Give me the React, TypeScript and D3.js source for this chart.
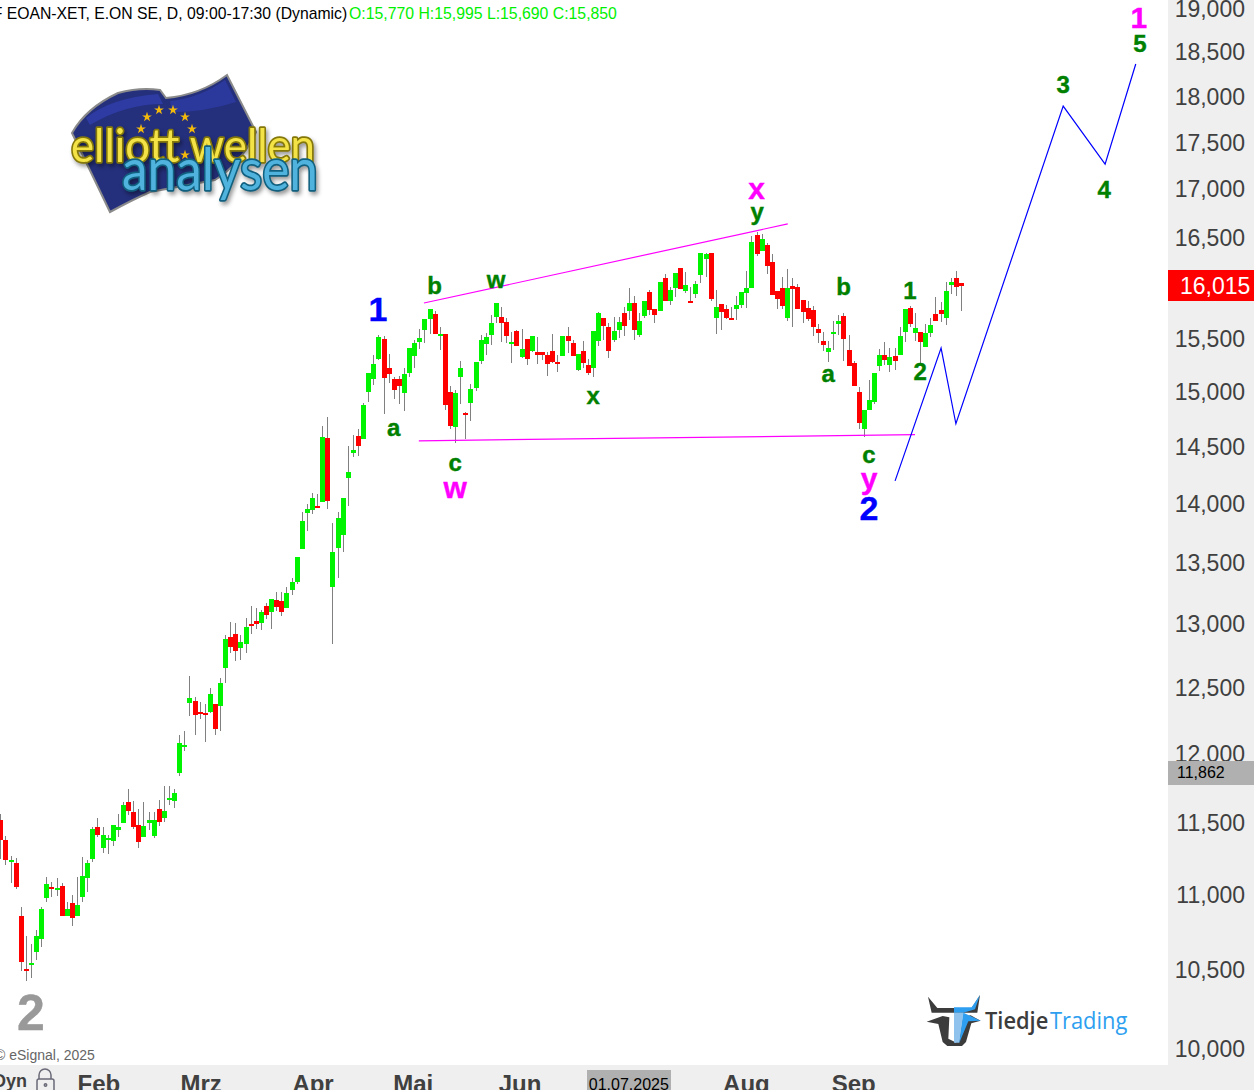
import React from 'react';
import * as d3 from 'd3';

const WIDTH = 1254;
const HEIGHT = 1090;
const AXIS_X = 1168;
const AXIS_Y = 1065;

const opens = [
  11520,11380,11225,11215,10855,10505,10535,10615,10705,10975,
  11050,11030,11060,10855,10945,10855,10985,11110,11245,11465,
  11320,11380,11370,11450,11500,11645,11575,11485,11400,11500,
  11405,11595,11535,11660,11655,11860,12050,12380,12395,12315,
  12305,12315,12375,12360,12650,12895,12920,12810,12840,13000,
  13025,13010,13145,13095,13195,13185,13130,13275,13340,13615,
  13925,13950,13980,14015,14580,13300,13625,13735,14225,14445,
  14600,14575,15000,15125,15310,15500,15225,15125,15125,14990,
  15180,15340,15470,15585,15695,15740,15530,15550,15000,14680,
  15140,14810,14900,15040,15290,15450,15540,15715,15715,15665,
  15450,15580,15330,15500,15385,15375,15375,15345,15385,15280,
  15340,15530,15460,15205,15385,15255,15225,15480,15705,15615,
  15490,15585,15750,15770,15845,15540,15725,15955,15790,15770,
  16095,15865,15995,16195,15965,15865,15935,16125,16285,16345,
  15705,15840,15790,15705,15790,15830,15945,15995,16525,16365,
  16425,16255,15965,15995,15705,16015,16005,15875,15800,15780,
  15595,15480,15375,15550,15645,15725,15395,15270,15000,14665,
  14835,14905,15245,15345,15255,15340,15345,15570,15800,15560,
  15570,15425,15560,15740,15780,15705,16025,16095,16045,
];
const highs = [
  11560,11405,11265,11250,10915,10725,10670,10765,10915,11120,
  11085,11115,11080,10950,10995,11120,11260,11240,11465,11535,
  11470,11415,11485,11560,11645,11740,11655,11595,11645,11575,
  11575,11660,11765,11765,11740,12140,12165,12590,12430,12390,
  12375,12495,12375,12575,12910,13015,13010,12910,13050,13145,
  13130,13115,13170,13200,13260,13260,13300,13375,13550,13930,
  14000,14095,14085,14690,14770,13835,13930,14050,14510,14610,
  14665,14900,15180,15345,15540,15530,15355,15140,15150,15225,
  15415,15490,15595,15695,15790,15770,15615,15550,15055,15020,
  15290,14815,15075,15280,15540,15560,15730,15845,15810,15705,
  15570,15585,15595,15500,15530,15520,15375,15375,15550,15345,
  15530,15615,15490,15355,15480,15310,15580,15760,15705,15655,
  15715,15715,15810,15995,15915,15750,15865,15975,15790,16055,
  16135,16005,16145,16195,16155,16005,16065,16345,16345,16345,
  15975,15840,15830,15810,15915,15955,16165,16515,16555,16535,
  16445,16335,15965,16105,16185,16095,16035,15875,15865,15820,
  15645,15570,15480,15675,15730,15750,15540,15290,15050,14835,
  15115,15180,15405,15470,15415,15415,15615,15790,15820,15750,
  15570,15645,15705,15905,15855,16055,16095,16165,16045,
];
const lows = [
  11245,11205,11080,11040,10495,10430,10450,10565,10650,10950,
  10985,10990,10855,10855,10790,10855,10950,11020,11225,11400,
  11285,11280,11335,11400,11500,11555,11455,11320,11400,11450,
  11390,11475,11505,11625,11605,11835,12020,12285,12135,12260,
  12085,12305,12140,12170,12535,12770,12705,12715,12770,12920,
  12960,12955,13040,12960,13105,13065,13130,13235,13320,13615,
  13770,13915,13965,14015,13955,12840,13375,13590,13980,14410,
  14420,14575,14905,15065,15300,14800,15085,14935,14890,14825,
  15140,15225,15405,15460,15550,15550,15395,14835,14665,14535,
  14890,14575,14735,15010,15265,15345,15440,15655,15470,15460,
  15270,15435,15320,15255,15375,15265,15300,15150,15270,15190,
  15340,15365,15340,15200,15225,15160,15140,15435,15490,15320,
  15470,15510,15530,15685,15490,15520,15705,15730,15655,15770,
  15865,15830,15905,15985,15945,15845,15895,16045,16105,15865,
  15550,15585,15695,15685,15685,15800,15800,15995,16315,16365,
  16135,15925,15790,15790,15675,15615,15790,15655,15675,15530,
  15460,15385,15280,15395,15540,15290,15245,15055,14665,14590,
  14835,14890,15200,15255,15190,15205,15345,15470,15615,15480,
  15265,15425,15520,15675,15665,15635,15935,15915,15770,
];
const closes = [
  11380,11240,11240,11050,10550,10495,10545,10725,10905,11075,
  11040,11045,10855,10905,10845,10930,11130,11215,11455,11415,
  11415,11390,11485,11470,11625,11585,11470,11365,11475,11520,
  11520,11505,11585,11675,11710,12080,12065,12420,12290,12300,
  12290,12450,12185,12535,12880,12815,12785,12855,12975,12985,
  13000,13095,13075,13200,13135,13095,13250,13340,13550,13855,
  13955,14050,13965,14590,14025,13590,13880,14050,14280,14475,
  14510,14880,15180,15265,15520,15130,15170,15020,15055,15170,
  15415,15460,15510,15695,15790,15550,15550,14880,14690,14990,
  15225,14790,15030,15280,15490,15520,15655,15845,15655,15530,
  15470,15435,15405,15310,15530,15345,15345,15265,15280,15265,
  15530,15480,15340,15355,15270,15180,15580,15750,15625,15385,
  15580,15665,15625,15845,15585,15675,15865,15780,15730,16055,
  15865,15975,16145,15985,16025,15845,16035,16345,16335,15885,
  15810,15760,15705,15685,15830,15955,15995,16455,16335,16485,
  16215,15925,15885,15820,15995,15985,15790,15760,15695,15615,
  15560,15440,15415,15570,15675,15500,15245,15055,14720,14835,
  14925,15180,15345,15300,15330,15290,15530,15790,15645,15605,
  15470,15560,15635,15675,15740,15965,16055,16005,16015,
];

const priceTicks = d3.range(10000, 19001, 500);
const months = ['Feb', 'Mrz', 'Apr', 'Mai', 'Jun', 'Aug', 'Sep'];
const monthBars = [19.3, 39.3, 61.2, 80.8, 101.7, 146, 167];
const cursorBar = 123;
const cursorDate = '01.07.2025';
const cursorPrice = 11862;
const lastPrice = 16015;

// projected count, [bar, price]
const projection: [number, number][] = [
  [175.1, 14200], [184.1, 15413], [187, 14709], [208, 17895], [216.2, 17266], [222.2, 18366],
];
const upperLine: [number, number][] = [[82.9, 15847], [154.1, 16640]];
const lowerLine: [number, number][] = [[81.9, 14555], [179, 14610]];

const GREEN = '#008000';
const BLUE = '#0000ff';
const PINK = '#ff00ff';
// text, bar, price, colour, font size
const waves: [string, number, number, string, number][] = [
  ['2', 6, 10215, '#999999', 50],
  ['1', 73.9, 15771, BLUE, 34],
  ['a', 77, 14663, GREEN, 24],
  ['b', 85, 16006, GREEN, 24],
  ['w', 97, 16066, GREEN, 24],
  ['c', 89, 14350, GREEN, 24],
  ['w', 89, 14130, PINK, 30],
  ['x', 116, 14954, GREEN, 24],
  ['y', 148.1, 16750, GREEN, 24],
  ['x', 148, 16990, PINK, 30],
  ['b', 165, 15996, GREEN, 24],
  ['a', 162, 15160, GREEN, 24],
  ['c', 170, 14420, GREEN, 24],
  ['y', 170, 14210, PINK, 30],
  ['2', 170, 13950, BLUE, 34],
  ['1', 178, 15956, GREEN, 24],
  ['2', 180, 15180, GREEN, 24],
  ['3', 208, 18120, GREEN, 24],
  ['4', 216, 16980, GREEN, 24],
  ['5', 223, 18580, GREEN, 24],
  ['1', 222.8, 18885, PINK, 30],
];

const stars: [number, number][] = [
  [147, 117], [159, 110], [173, 110], [185, 117], [192, 129], [185, 155], [141, 129],
];

const x = d3.scaleLinear().domain([0, 188]).range([0.33, 961]);
const y = d3.scaleLog().domain([10000, 19000]).range([1049, 9]);
const fmt = d3.format(',');
const priceLine = d3.line<[number, number]>().x(d => x(d[0])).y(d => y(d[1]));
const starPath = d3.symbol().type(d3.symbolStar).size(30)();

const SANS = '"Liberation Sans", Arial, sans-serif';

function Candles() {
  return (
    <g>
      {opens.map((o, i) => {
        const cx = Math.round(x(i));
        return (
          <rect key={i} x={cx} y={Math.round(y(highs[i]))} width={1}
            height={Math.round(y(lows[i])) - Math.round(y(highs[i]))} fill="#808080" />
        );
      })}
      {opens.map((o, i) => {
        const top = Math.round(y(Math.max(o, closes[i])));
        const bottom = Math.round(y(Math.min(o, closes[i])));
        return (
          <rect key={i} x={Math.round(x(i)) - 2} y={top} width={5}
            height={Math.max(bottom - top, 2)} fill={closes[i] < o ? '#ff0000' : '#00f400'} />
        );
      })}
    </g>
  );
}

function ElliottLogo() {
  return (
    <g>
      <path d="M72 133 Q86 108 118 93 Q140 87 160 90 L166 98 Q200 95 227 75 L256 132 Q240 165 215 180 L150 192 Q132 200 110 212 Z"
        fill="#25307c" stroke="#8b8b8b" strokeWidth={2} />
      <path d="M86 118 Q110 98 158 94 L163 104 Q125 104 90 125 Z" fill="#3140b4" opacity={0.7} />
      <path d="M170 101 Q200 98 225 80 L236 102 Q205 112 172 112 Z" fill="#3140b4" opacity={0.6} />
      {stars.map((s, i) => (
        <path key={i} d={starPath ?? ''} transform={`translate(${s[0]},${s[1]})`} fill="#f2b90c" />
      ))}
      <g style={{ filter: 'drop-shadow(2px 3px 2px rgba(0,0,0,.4))' }}>
        <text x={71} y={162} fontFamily='Lato, sans-serif' fontSize={46} textLength={244} lengthAdjust="spacingAndGlyphs"
          fill="#f4e347" stroke="#85780a" strokeWidth={3.5} paintOrder="stroke" strokeLinejoin="round">elliott wellen</text>
        <text x={122} y={190} fontFamily='Lato, sans-serif' fontSize={58} textLength={196} lengthAdjust="spacingAndGlyphs"
          fill="#4fb3de" stroke="#11607f" strokeWidth={3.5} paintOrder="stroke" strokeLinejoin="round">analysen</text>
      </g>
    </g>
  );
}

function TiedjeLogo() {
  return (
    <g transform="translate(900,980) scale(0.3333)">
      <path d="M84 50 L112 84 L215 84 L240 45 L232 98 L95 98 Z" fill="#3c3c3c" />
      <path d="M162 82 L215 82 L240 45 L225 88 L190 98 L162 98 Z" fill="#2e9ff0" />
      <path d="M80 125 L128 108 L148 112 L145 176 L165 186 L165 198 L142 198 L128 186 L115 132 Z" fill="#3c3c3c" />
      <path d="M165 198 L186 198 L198 186 L214 130 L242 122 L212 106 L190 110 L178 182 L165 188 Z" fill="#3c3c3c" />
      <path d="M162 98 L190 98 L178 188 L162 188 Z" fill="#8fc3ee" />
      <path d="M190 98 L242 122 L205 124 L178 188 Z" fill="#2e9ff0" />
      <text x={255} y={146} fontFamily='"Open Sans", sans-serif' fontSize={72} fontWeight={600} fill="#3c3c3c"
        textLength={190} lengthAdjust="spacingAndGlyphs">Tiedje</text>
      <text x={450} y={146} fontFamily='"Open Sans", sans-serif' fontSize={72} fill="#2e9ff0"
        textLength={232} lengthAdjust="spacingAndGlyphs">Trading</text>
    </g>
  );
}

export default function App() {
  return (
    <svg width={WIDTH} height={HEIGHT} style={{ position: 'absolute', left: 0, top: 0, display: 'block' }} fontFamily={SANS}>
      <rect width={WIDTH} height={HEIGHT} fill="#ffffff" />

      <ElliottLogo />
      <TiedjeLogo />
      <Candles />

      <path d={priceLine(upperLine) ?? ''} fill="none" stroke={PINK} strokeWidth={1.2} />
      <path d={priceLine(lowerLine) ?? ''} fill="none" stroke={PINK} strokeWidth={1.2} />
      <path d={priceLine(projection) ?? ''} fill="none" stroke={BLUE} strokeWidth={1.2} />

      {waves.map((w, i) => (
        <text key={i} x={x(w[1])} y={y(w[2])} dy=".3em" textAnchor="middle" fontWeight={700}
          fontSize={w[4]} fill={w[3]} stroke={w[3]} strokeWidth={0.4}>{w[0]}</text>
      ))}

      <text x={-7.3} y={19} fontSize={15.75} fill="#000000">F EOAN-XET, E.ON SE, D, 09:00-17:30 (Dynamic)</text>
      <text x={349} y={19} fontSize={15.8} fill="#00f000">O:15,770 H:15,995 L:15,690 C:15,850</text>
      <text x={-5} y={1060} fontSize={14} fill="#666666">© eSignal, 2025</text>

      <rect x={AXIS_X} y={0} width={WIDTH - AXIS_X} height={HEIGHT} fill="#efefef" />
      <rect x={0} y={AXIS_Y} width={WIDTH} height={HEIGHT - AXIS_Y} fill="#efefef" />

      {priceTicks.map(t => (
        <text key={t} x={1245} y={y(t)} dy=".36em" textAnchor="end" fontSize={23} fill="#404040">{fmt(t)}</text>
      ))}
      <rect x={AXIS_X} y={761} width={WIDTH - AXIS_X} height={24} fill="#b0b0b0" />
      <text x={1177} y={y(cursorPrice)} dy=".36em" fontSize={16} fill="#000000">{fmt(cursorPrice)}</text>
      <rect x={AXIS_X} y={270} width={WIDTH - AXIS_X} height={31} fill="#ff0000" />
      <text x={1180} y={y(lastPrice)} dy=".36em" fontSize={23} fill="#ffffff">{fmt(lastPrice)}</text>

      {months.map((m, i) => (
        <text key={m} x={x(monthBars[i])} y={1092} textAnchor="middle" fontSize={24} fontWeight={700} fill="#404040">{m}</text>
      ))}
      <rect x={587} y={1070} width={84} height={20} fill="#b0b0b0" />
      <text x={x(cursorBar)} y={1090} textAnchor="middle" fontSize={16} fill="#000000">{cursorDate}</text>

      <text x={27} y={1087} textAnchor="end" fontSize={18} fontWeight={700} fill="#404040">Dyn</text>
      <g fill="none" stroke="#6a6a78" strokeWidth={1.5}>
        <path d="M39 1079 V1075 A6 6 0 0 1 51 1075 V1079" />
        <rect x={37} y={1079} width={17} height={13} rx={2} />
        <circle cx={45.5} cy={1085} r={1.2} />
      </g>
    </svg>
  );
}
